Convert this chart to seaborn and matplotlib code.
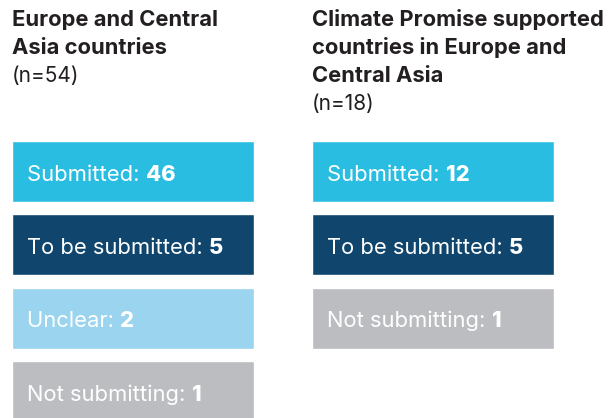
import pandas as pd
import matplotlib
matplotlib.use("Agg")
import matplotlib.pyplot as plt
import seaborn as sns

# data
left_title = ["Europe and Central", "Asia countries"]
left_n = "(n=54)"
left_status = ["Submitted", "To be submitted", "Unclear", "Not submitting"]
left_count = [46, 5, 2, 1]

right_title = ["Climate Promise supported", "countries in Europe and", "Central Asia"]
right_n = "(n=18)"
right_status = ["Submitted", "To be submitted", "Not submitting"]
right_count = [12, 5, 1]

colors = {
    "Submitted": "#2ABDE2",
    "To be submitted": "#10466D",
    "Unclear": "#9AD4EE",
    "Not submitting": "#BCBDC1",
}

sns.set_style("white")
plt.rcParams["font.family"] = ["Inter", "DejaVu Sans"]

W, H = 610, 418
fig = plt.figure(figsize=(W / 100, H / 100), dpi=100)

pitch = 73.3
top_px = 171.5 - pitch / 2
ax_h = 4 * pitch / H
ax_bottom = 1 - top_px / H - ax_h


def draw_column(x0, status, count, title, n_label):
    ax = fig.add_axes([x0 / W, ax_bottom, 242 / W, ax_h])
    df = pd.DataFrame({"status": status, "count": count, "box": 1.0})
    sns.barplot(data=df, x="box", y="status", hue="status", palette=colors,
                orient="h", width=0.83, legend=False, ax=ax, saturation=1)
    ax.set_xlim(0, 1)
    ax.set_ylim(3.5, -0.5)
    ax.axis("off")
    fig.canvas.draw()
    r = fig.canvas.get_renderer()
    for i, (s, c) in enumerate(zip(status, count)):
        t = ax.text(0.062, i + 0.125, f"{s}: ", color="white", fontsize=15.8,
                    va="baseline", ha="left")
        bb = t.get_window_extent(renderer=r)
        xd = ax.transData.inverted().transform((bb.x1, 0))[0]
        ax.text(xd, i + 0.125, str(c), color="white", fontsize=15.8,
                fontweight="heavy", va="baseline", ha="left")
    for k, line in enumerate(title):
        fig.text(x0 / W, 1 - (26 + 28 * k) / H, line, fontsize=15.8,
                 fontweight="bold", color="#231F20", va="baseline")
    fig.text(x0 / W, 1 - (26 + 28 * len(title)) / H, n_label, fontsize=15,
             color="#231F20", va="baseline")


draw_column(12, left_status, left_count, left_title, left_n)
draw_column(312, right_status, right_count, right_title, right_n)

fig.savefig("out.png", dpi=100)
